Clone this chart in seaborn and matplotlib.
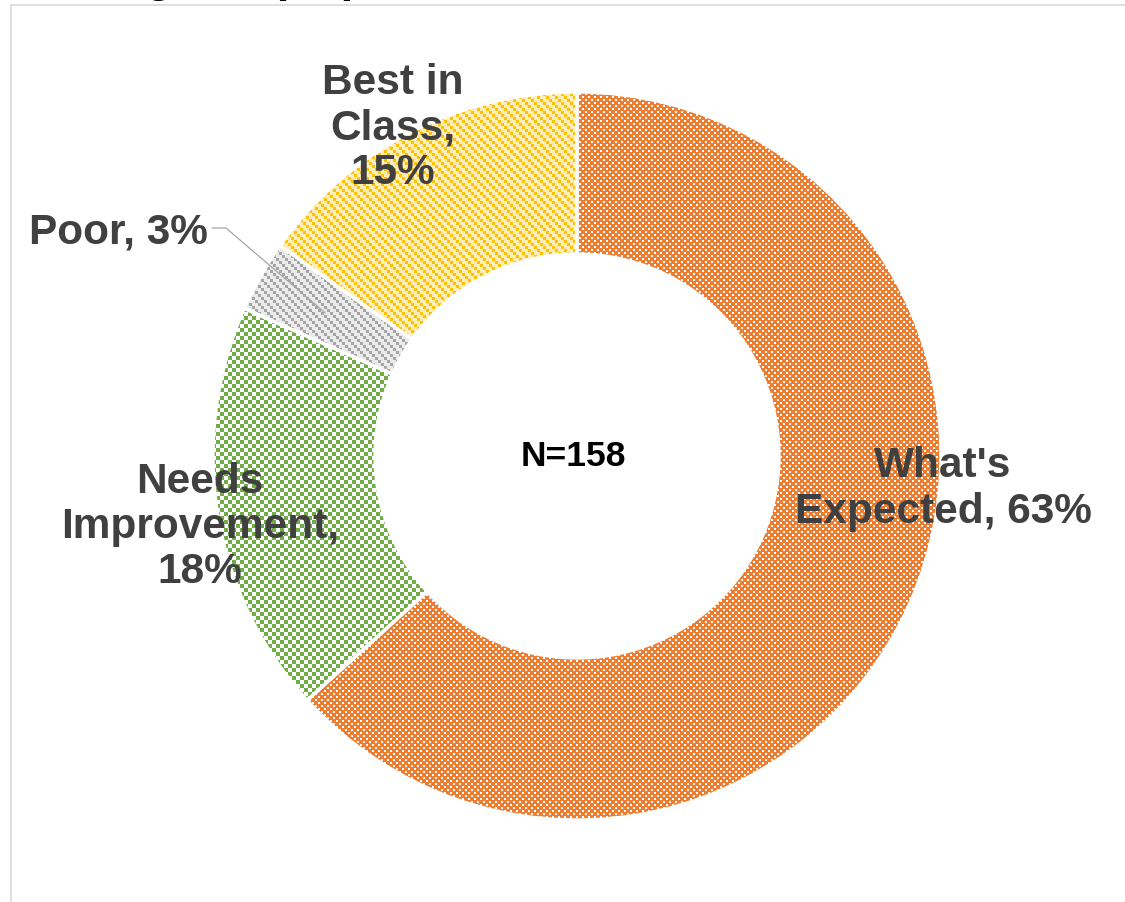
import numpy as np
import matplotlib
matplotlib.use("Agg")
import matplotlib.pyplot as plt
from matplotlib.patches import Wedge
import seaborn as sns

# Survey result: counts per rating level (N = 158)
categories = ["What's Expected", "Needs Improvement", "Poor", "Best in Class"]
counts = [100, 29, 5, 24]
label_templates = ["What's\nExpected, {}%", "Needs\nImprovement,\n{}%",
                   "Poor, {}%", "Best in\nClass,\n{}%"]
title_text = "Overall Rating Mix (All)"

fg_colors = ["#ED7D31", "#70AD47", "#A5A5A5", "#FFC000"]
bg_colors = ["#FFFFFF", "#FFFFFF", "#EBEBEB", "#FFEDB8"]
patterns = ["dots", "checker", "diag", "diag"]

sns.set_theme(style="white")
plt.rcParams["font.family"] = ["Liberation Sans", "DejaVu Sans"]

W, H = 1125, 902
fig = plt.figure(figsize=(W / 100, H / 100), dpi=100)
ax = fig.add_axes([0, 0, 1, 1])

cx, cy = 577, 902 - 456
r_out, r_in = 364, 202

total = sum(counts)
wedges, _ = ax.pie(counts, colors=fg_colors, startangle=90, counterclock=False,
                   center=(cx, cy), radius=r_out, frame=True,
                   wedgeprops=dict(width=r_out - r_in, linewidth=0))
ax.set_aspect("auto")
ax.set_axis_off()

# pattern fills, built on the pixel grid
yy, xx = np.mgrid[0:H, 0:W]


def texture(kind, fg, bg):
    if kind == "checker":
        mask = ((xx // 4 + yy // 4) % 2) == 0
    elif kind == "diag":
        mask = ((xx // 3 - yy // 3) % 3) == 0
    else:
        a = ((xx % 6) < 2) & ((yy % 6) < 2)
        b = (((xx + 3) % 6) < 2) & (((yy + 3) % 6) < 2)
        mask = ~(a | b)
    f = np.array(matplotlib.colors.to_rgb(fg))
    g = np.array(matplotlib.colors.to_rgb(bg))
    return np.where(mask[..., None], f, g)


for w, kind, fg, bg in zip(wedges, patterns, fg_colors, bg_colors):
    im = ax.imshow(texture(kind, fg, bg), extent=(0, W, 0, H), origin="upper",
                   interpolation="nearest", zorder=2)
    im.set_clip_path(w)
    ax.add_patch(Wedge(w.center, w.r, w.theta1, w.theta2, width=w.width,
                       fill=False, edgecolor="white", linewidth=2.4, zorder=3))

ax.set_xlim(0, W)
ax.set_ylim(0, H)

# data labels
pcts = [int(round(100 * c / total)) for c in counts]
label_pos = [(943, 489), (200, 527), (118, 232), (393, 128)]
for tpl, p, (lx, ly) in zip(label_templates, pcts, label_pos):
    ax.text(lx, H - ly, tpl.format(p), ha="center", va="center", fontsize=30.5,
            fontweight="bold", color="#404040", linespacing=1.17, zorder=5)

# leader line for the small slice
pw = wedges[2]
mid = np.deg2rad((pw.theta1 + pw.theta2) / 2)
ex, ey = cx + 290 * np.cos(mid), cy + 290 * np.sin(mid)
ax.plot([212, 226, ex], [674, 674, ey], color="#A6A6A6", lw=0.9, zorder=4)

ax.text(cx - 4, cy - 1, f"N={total}", ha="center", va="center", fontsize=25.5,
        fontweight="bold", color="black", zorder=5)

# chart-area border
ax.plot([11, W], [H - 5, H - 5], color="#D9D9D9", lw=1.2, zorder=1)
ax.plot([11, 11], [0, H - 5], color="#D9D9D9", lw=1.2, zorder=1)

fig.text(358 / W, 1 + 8 / H, title_text, ha="right", va="baseline",
         fontsize=32, fontweight="bold", color="black")

fig.savefig("out.png", dpi=100)
